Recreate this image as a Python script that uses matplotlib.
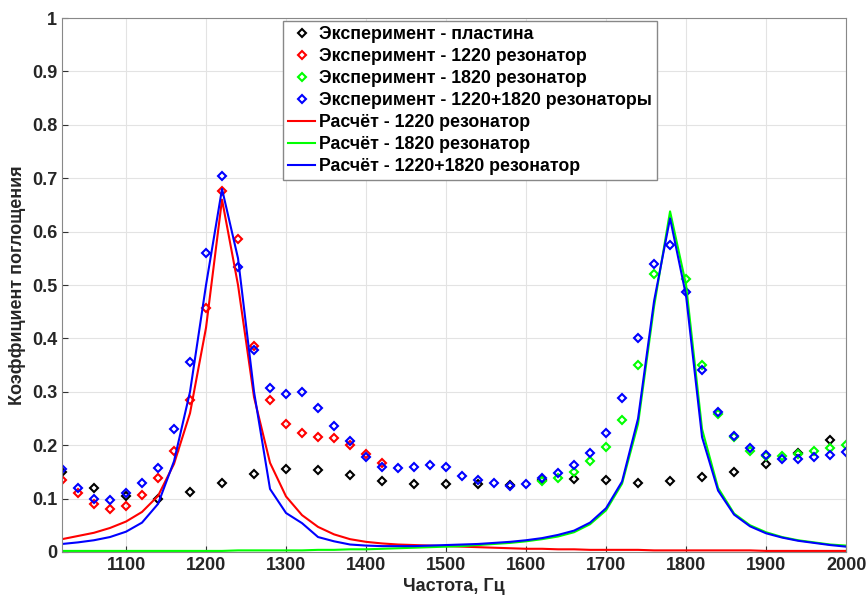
import matplotlib
matplotlib.use("Agg")
import matplotlib.pyplot as plt
import numpy as np

plt.rcParams['font.family'] = ['Liberation Sans', 'DejaVu Sans']
plt.rcParams['font.weight'] = 'bold'

# experimental data
freq_plate = np.arange(1020, 2001, 40)
exp_plate = [0.150, 0.120, 0.105, 0.100, 0.112, 0.130, 0.147, 0.155, 0.153, 0.145,
             0.133, 0.128, 0.127, 0.128, 0.125, 0.135, 0.137, 0.134, 0.130, 0.133,
             0.140, 0.150, 0.165, 0.185, 0.210]

freq_1220 = np.arange(1020, 1421, 20)
exp_1220 = [0.135, 0.110, 0.090, 0.080, 0.087, 0.107, 0.138, 0.190, 0.285, 0.457,
            0.677, 0.587, 0.385, 0.285, 0.240, 0.223, 0.215, 0.213, 0.200, 0.183,
            0.167]

# no green marker at 1780 in the original
freq_1820 = [1620, 1640, 1660, 1680, 1700, 1720, 1740, 1760, 1800, 1820,
             1840, 1860, 1880, 1900, 1920, 1940, 1960, 1980, 2000]
exp_1820 = [0.133, 0.138, 0.150, 0.170, 0.197, 0.248, 0.350, 0.520, 0.512, 0.350,
            0.258, 0.215, 0.190, 0.180, 0.180, 0.183, 0.190, 0.195, 0.200]

freq_both = np.arange(1020, 2001, 20)
exp_both = [0.155, 0.120, 0.100, 0.098, 0.110, 0.130, 0.158, 0.230, 0.355, 0.560,
            0.705, 0.533, 0.378, 0.307, 0.295, 0.300, 0.270, 0.236, 0.207, 0.178,
            0.160, 0.158, 0.160, 0.162, 0.160, 0.143, 0.135, 0.130, 0.123, 0.127,
            0.138, 0.148, 0.162, 0.186, 0.223, 0.288, 0.400, 0.540, 0.575, 0.487,
            0.340, 0.262, 0.217, 0.195, 0.182, 0.175, 0.175, 0.178, 0.182, 0.188]

# calculated curves (same frequency grid)
freq_calc = np.arange(1020, 2001, 20)
calc_1220 = [0.024, 0.030, 0.036, 0.045, 0.057, 0.075, 0.105, 0.165, 0.260, 0.420,
             0.660, 0.500, 0.290, 0.167, 0.104, 0.069, 0.047, 0.033, 0.024, 0.019,
             0.016, 0.014, 0.013, 0.012, 0.011, 0.010, 0.009, 0.008, 0.007, 0.006,
             0.006, 0.005, 0.005, 0.004, 0.004, 0.004, 0.004, 0.003, 0.003, 0.003,
             0.003, 0.003, 0.003, 0.003, 0.002, 0.002, 0.002, 0.002, 0.002, 0.002]
calc_1820 = [0.002, 0.002, 0.002, 0.002, 0.002, 0.002, 0.002, 0.002, 0.002, 0.002,
             0.002, 0.003, 0.003, 0.003, 0.003, 0.003, 0.004, 0.004, 0.005, 0.005,
             0.006, 0.007, 0.008, 0.009, 0.010, 0.011, 0.013, 0.015, 0.017, 0.020,
             0.024, 0.029, 0.037, 0.052, 0.078, 0.128, 0.240, 0.460, 0.638, 0.500,
             0.230, 0.120, 0.072, 0.050, 0.037, 0.028, 0.022, 0.018, 0.014, 0.012]
calc_both = [0.015, 0.018, 0.022, 0.028, 0.038, 0.055, 0.090, 0.170, 0.300, 0.500,
             0.680, 0.550, 0.300, 0.118, 0.073, 0.054, 0.028, 0.020, 0.014, 0.012,
             0.011, 0.011, 0.011, 0.012, 0.013, 0.014, 0.015, 0.017, 0.019, 0.022,
             0.026, 0.032, 0.040, 0.055, 0.082, 0.132, 0.250, 0.470, 0.625, 0.480,
             0.215, 0.115, 0.070, 0.048, 0.035, 0.027, 0.021, 0.017, 0.013, 0.010]

fig = plt.figure(figsize=(8.66, 6.03), dpi=100)
ax = fig.add_axes([0.0716, 0.0846, 0.9054, 0.8854])

mk = dict(linestyle='none', marker='D', markersize=3.6, markeredgewidth=1.5,
          markerfacecolor='none')
ax.plot(freq_plate, exp_plate, color='k', label='Эксперимент - пластина', **mk)
ax.plot(freq_1220, exp_1220, color=(1, 0, 0), label='Эксперимент - 1220 резонатор', **mk)
ax.plot(freq_1820, exp_1820, color=(0, 1, 0), label='Эксперимент - 1820 резонатор', **mk)
ax.plot(freq_both, exp_both, color=(0, 0, 1), label='Эксперимент - 1220+1820 резонаторы', **mk)
ax.plot(freq_calc, calc_1220, color=(1, 0, 0), lw=1.5, label='Расчёт - 1220 резонатор')
ax.plot(freq_calc, calc_1820, color=(0, 1, 0), lw=1.5, label='Расчёт - 1820 резонатор')
ax.plot(freq_calc, calc_both, color=(0, 0, 1), lw=1.5, label='Расчёт - 1220+1820 резонатор')

ax.set_xlim(1020, 2000)
ax.set_ylim(0, 1)
ax.set_xticks(np.arange(1100, 2001, 100))
ax.set_yticks(np.arange(0, 1.01, 0.1))
ax.set_yticklabels(['0'] + [f'{v:.1f}' for v in np.arange(0.1, 0.95, 0.1)] + ['1'])
ax.grid(True, color='#e3e3e3', lw=0.8)
ax.tick_params(labelsize=13, direction='in', length=4, color='#333333',
               labelcolor='#262626')
for s in ax.spines.values():
    s.set_color('#888888')
ax.set_xlabel('Частота, Гц', fontsize=13, fontweight='bold', labelpad=3,
              color='#262626')
ax.set_ylabel('Коэффициент поглощения', fontsize=13, fontweight='bold', labelpad=4,
              color='#262626')

leg = ax.legend(loc='upper left', bbox_to_anchor=(0.282, 0.995), fontsize=12.8,
                handlelength=1.5, handletextpad=0.2, borderpad=0.3,
                labelspacing=0.28, fancybox=False, framealpha=1, borderaxespad=0)
leg.get_frame().set_edgecolor('#888888')
for t in leg.get_texts():
    t.set_fontweight('bold')

fig.savefig('out.png', dpi=100)
